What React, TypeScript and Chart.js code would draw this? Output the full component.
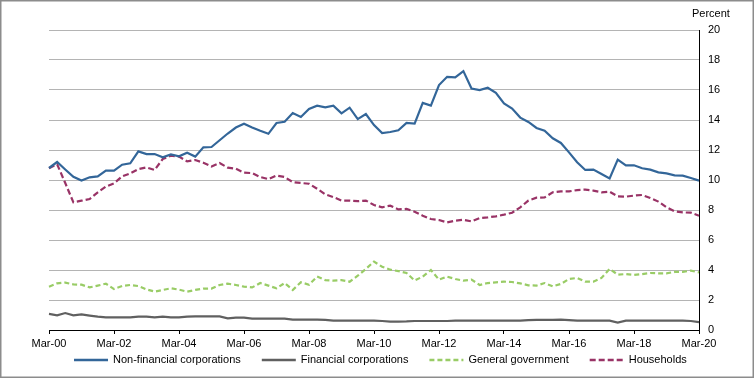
import React, { useEffect, useRef } from "react";
import { Chart, registerables } from "chart.js";

Chart.register(...registerables);

const years = ["00","01","02","03","04","05","06","07","08","09","10","11","12","13","14","15","16","17","18","19","20"];
const months = ["Mar", "Jun", "Sep", "Dec"];
const categories: string[] = [];
years.forEach((y, yi) => {
  months.forEach((m) => {
    if (yi === years.length - 1 && m !== "Mar") return;
    categories.push(`${m}-${y}`);
  });
});

const nonFinancial = [
  10.8, 11.2, 10.7, 10.22, 9.96, 10.18, 10.24, 10.62, 10.62, 11.02,
  11.11, 11.91, 11.73, 11.73, 11.51, 11.71, 11.58, 11.82, 11.56, 12.18,
  12.2, 12.65, 13.1, 13.5, 13.75, 13.5, 13.28, 13.08, 13.8, 13.88,
  14.46, 14.2, 14.73, 14.95, 14.84, 14.95, 14.44, 14.82, 14.06, 14.4,
  13.66, 13.13, 13.2, 13.31, 13.8, 13.76, 15.14, 14.96, 16.33, 16.88,
  16.84, 17.26, 16.1, 15.99, 16.15, 15.81, 15.1, 14.76, 14.16, 13.87,
  13.47, 13.29, 12.78, 12.47, 11.84, 11.18, 10.67, 10.69, 10.4, 10.11,
  11.36, 10.98, 10.98, 10.78, 10.69, 10.51, 10.44, 10.31, 10.29, 10.13,
  9.96,
];

const financial = [
  1.07, 0.98, 1.13, 0.98, 1.04, 0.96, 0.89, 0.84, 0.84, 0.84,
  0.84, 0.89, 0.89, 0.84, 0.89, 0.84, 0.84, 0.89, 0.91, 0.91,
  0.91, 0.91, 0.78, 0.82, 0.82, 0.76, 0.76, 0.76, 0.76, 0.76,
  0.69, 0.69, 0.69, 0.69, 0.67, 0.62, 0.62, 0.62, 0.62, 0.62,
  0.62, 0.6, 0.56, 0.56, 0.57, 0.6, 0.6, 0.6, 0.6, 0.6,
  0.62, 0.62, 0.62, 0.62, 0.62, 0.62, 0.62, 0.62, 0.62, 0.66,
  0.67, 0.67, 0.68, 0.69, 0.66, 0.62, 0.62, 0.62, 0.62, 0.62,
  0.49, 0.62, 0.62, 0.62, 0.62, 0.62, 0.62, 0.62, 0.62, 0.6,
  0.53,
];

const generalGovernment = [
  2.89, 3.11, 3.16, 3.04, 3.02, 2.84, 2.96, 3.09, 2.73, 2.93,
  3.0, 2.93, 2.71, 2.56, 2.67, 2.78, 2.69, 2.56, 2.67, 2.76,
  2.76, 3.0, 3.09, 3.0, 2.89, 2.84, 3.13, 2.96, 2.78, 3.13,
  2.67, 3.18, 3.02, 3.56, 3.33, 3.29, 3.33, 3.22, 3.62, 4.07,
  4.56, 4.22, 4.02, 3.93, 3.8, 3.3, 3.56, 4.0, 3.36, 3.56,
  3.4, 3.29, 3.36, 3.0, 3.13, 3.18, 3.22, 3.2, 3.11, 2.98,
  2.96, 3.13, 2.91, 3.07, 3.4, 3.47, 3.22, 3.22, 3.47, 4.07,
  3.69, 3.73, 3.67, 3.73, 3.8, 3.78, 3.78, 3.87, 3.87, 3.96,
  3.84,
];

const households = [
  10.78, 11.05, 9.8, 8.51, 8.62, 8.73, 9.18, 9.56, 9.78, 10.24,
  10.44, 10.73, 10.84, 10.67, 11.4, 11.62, 11.56, 11.24, 11.33, 11.15,
  10.9, 11.13, 10.82, 10.75, 10.49, 10.46, 10.2, 10.06, 10.3, 10.2,
  9.86, 9.8, 9.75, 9.42, 9.04, 8.86, 8.63, 8.63, 8.59, 8.63,
  8.33, 8.18, 8.29, 8.04, 8.07, 7.89, 7.62, 7.4, 7.33, 7.17,
  7.29, 7.35, 7.24, 7.46, 7.51, 7.58, 7.69, 7.82, 8.18, 8.63,
  8.82, 8.84, 9.18, 9.24, 9.24, 9.33, 9.36, 9.29, 9.18, 9.22,
  8.91, 8.89, 8.96, 9.0, 8.8, 8.56, 8.18, 7.91, 7.84, 7.82,
  7.62,
];

const seriesNames = ["Non-financial corporations", "Financial corporations", "General government", "Households"];
const seriesColors = ["#336699", "#606060", "#99cc66", "#993366"];
const seriesDash: number[][] = [[], [], [5, 3], [6, 3]];
const yTicks = [0, 2, 4, 6, 8, 10, 12, 14, 16, 18, 20];

const FONT = '"Liberation Sans", Arial, sans-serif';

const decorPlugin = {
  id: "decor",
  afterDraw(chart: any) {
    const ctx = chart.ctx;
    ctx.save();
    // frame
    ctx.strokeStyle = "#8c8c8c";
    ctx.lineWidth = 1.5;
    ctx.strokeRect(0.75, 0.75, 752.5, 376.5);
    // axis title
    ctx.fillStyle = "#000";
    ctx.font = `11px ${FONT}`;
    ctx.textAlign = "left";
    ctx.textBaseline = "alphabetic";
    ctx.fillText("Percent", 692, 17);
    // legend
    const sample = 34;
    const gap = 5;
    const spacing = 21;
    const widths = seriesNames.map((n) => ctx.measureText(n).width);
    const total = widths.reduce((a, w) => a + sample + gap + w, 0) + spacing * (seriesNames.length - 1);
    let x = 380.4 - total / 2;
    const y = 360;
    ctx.textBaseline = "middle";
    seriesNames.forEach((n, i) => {
      ctx.beginPath();
      ctx.strokeStyle = seriesColors[i];
      ctx.lineWidth = 2.5;
      ctx.setLineDash(seriesDash[i]);
      ctx.moveTo(x, y);
      ctx.lineTo(x + sample, y);
      ctx.stroke();
      ctx.setLineDash([]);
      ctx.fillStyle = "#000";
      ctx.fillText(n, x + sample + gap, y);
      x += sample + gap + widths[i] + spacing;
    });
    ctx.restore();
  },
};

export default function App() {
  const ref = useRef<HTMLCanvasElement>(null);
  useEffect(() => {
    if (!ref.current) return;
    const data = [nonFinancial, financial, generalGovernment, households];
    const chart = new Chart(ref.current, {
      type: "line",
      data: {
        labels: categories,
        datasets: seriesNames.map((name, i) => ({
          label: name,
          data: data[i],
          borderColor: seriesColors[i],
          backgroundColor: seriesColors[i],
          borderWidth: 2.2,
          borderDash: seriesDash[i],
          pointRadius: 0,
          tension: 0,
          fill: false,
        })),
      },
      options: {
        responsive: false,
        animation: false,
        layout: { padding: { left: 49, top: 30, right: 0, bottom: 0 } },
        plugins: {
          legend: { display: false },
          tooltip: { enabled: false },
        },
        scales: {
          x: {
            type: "category",
            offset: false,
            afterFit: (s: any) => { s.height = 49; },
            grid: {
              display: true,
              drawOnChartArea: false,
              drawTicks: true,
              tickLength: 4,
              color: "#000",
            },
            border: { display: true, color: "#000", width: 1 },
            ticks: {
              autoSkip: false,
              maxRotation: 0,
              minRotation: 0,
              padding: 3,
              color: "#000",
              font: { family: FONT, size: 11 },
              callback: (_v: any, idx: number) => (idx % 8 === 0 ? categories[idx] : null),
            },
          },
          y: {
            position: "right",
            min: 0,
            max: 20,
            afterFit: (s: any) => { s.width = 57; },
            afterBuildTicks: (s: any) => { s.ticks = yTicks.map((v) => ({ value: v })); },
            grid: { color: "#b4b4b4", drawTicks: false, lineWidth: 1 },
            border: { display: true, color: "#000", width: 1 },
            ticks: {
              padding: 9,
              color: "#000",
              font: { family: FONT, size: 11 },
            },
          },
        },
      },
      plugins: [decorPlugin],
    });
    return () => chart.destroy();
  }, []);
  return (
    <div style={{ position: "absolute", left: 0, top: 0, width: 756, height: 379, background: "#fff" }}>
      <canvas ref={ref} width={756} height={379} style={{ display: "block" }} />
    </div>
  );
}
